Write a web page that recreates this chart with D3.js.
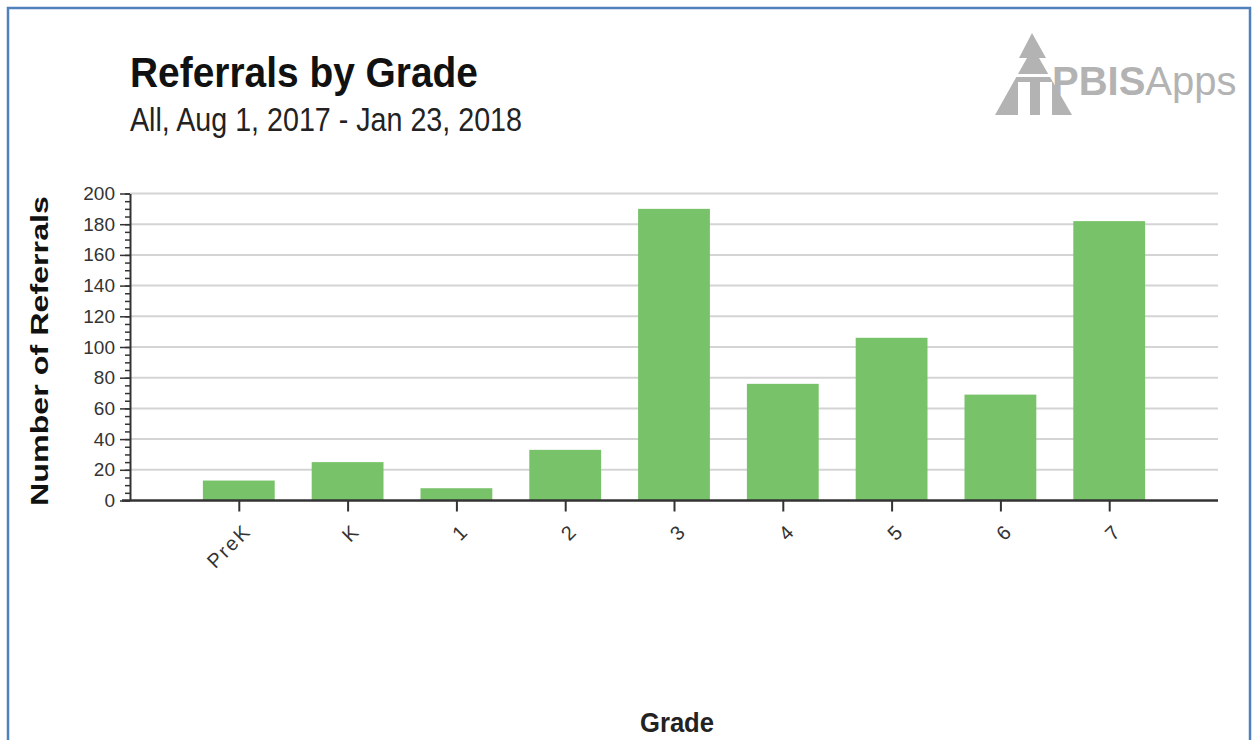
<!DOCTYPE html>
<html>
<head>
<meta charset="utf-8">
<script src="https://cdn.jsdelivr.net/npm/d3@7"></script>
<style>
  body { margin: 0; background: #fff; }
  svg text { font-family: "Liberation Sans", Arial, sans-serif; }
</style>
</head>
<body>
<div id="canvas"></div>
<script>
// chart data
const grades = ['PreK', 'K', '1', '2', '3', '4', '5', '6', '7'];
const referrals = [13, 25, 8, 33, 190, 76, 106, 69, 182];
const yTicks = [0, 20, 40, 60, 80, 100, 120, 140, 160, 180, 200];

const title = 'Referrals by Grade';
const subtitle = 'All, Aug 1, 2017 - Jan 23, 2018';

const width = 1255, height = 740;
const plotLeft = 130, plotRight = 1218, plotTop = 193.5, plotBottom = 500.5;

const svg = d3.select('#canvas')
    .append('svg')
    .attr('width', width)
    .attr('height', height);

// blue frame around the picture
svg.append('rect')
    .attr('x', 8).attr('y', 8)
    .attr('width', 1242).attr('height', 760)
    .attr('fill', 'none')
    .attr('stroke', '#4f81bd')
    .attr('stroke-width', 2.5);

svg.append('text')
    .attr('x', 130).attr('y', 87)
    .attr('font-size', 42).attr('font-weight', 'bold')
    .attr('fill', '#111')
    .attr('textLength', 348).attr('lengthAdjust', 'spacingAndGlyphs')
    .text(title);

svg.append('text')
    .attr('x', 130).attr('y', 131)
    .attr('font-size', 34)
    .attr('fill', '#222')
    .attr('textLength', 392).attr('lengthAdjust', 'spacingAndGlyphs')
    .text(subtitle);

// logo
const logo = svg.append('g').attr('fill', '#b3b3b3');
logo.append('path')
    .attr('d', 'M1032,33 L1046,58 L1039,58 L1072,115 L1052,115 L1052,82 L1040,82 L1040,115 L1030,115 L1030,82 L1018,82 L1018,115 L995,115 L1027,58 L1019,58 Z');
logo.append('rect').attr('x', 1000).attr('y', 74).attr('width', 60).attr('height', 3).attr('fill', '#fff');
const logoText = logo.append('text')
    .attr('x', 1052).attr('y', 95)
    .attr('font-size', 40);
logoText.append('tspan').attr('font-weight', 'bold').text('PBIS');
logoText.append('tspan').attr('font-weight', 'normal').text('Apps');

const x = d3.scalePoint()
    .domain(grades)
    .range([plotLeft, plotRight])
    .padding(1);

const y = d3.scaleLinear()
    .domain([0, 200])
    .range([plotBottom, plotTop]);

const barW = x.step() * 0.66;

// gridlines
svg.append('g')
    .selectAll('line')
    .data(yTicks.filter(d => d > 0))
    .enter()
    .append('line')
    .attr('x1', plotLeft).attr('x2', plotRight)
    .attr('y1', d => y(d)).attr('y2', d => y(d))
    .attr('stroke', '#d4d4d4')
    .attr('stroke-width', 2);

// bars
svg.append('g')
    .selectAll('rect')
    .data(grades)
    .enter()
    .append('rect')
    .attr('x', d => x(d) - barW / 2)
    .attr('width', barW)
    .attr('y', (d, i) => y(referrals[i]))
    .attr('height', (d, i) => y(0) - y(referrals[i]))
    .attr('fill', '#78c26a');

// minor ticks on y axis
const minor = svg.append('g')
    .attr('transform', `translate(${plotLeft},0)`)
    .call(d3.axisLeft(y).ticks(50).tickSize(5).tickFormat(''));
minor.select('.domain').remove();
minor.selectAll('line').attr('stroke', '#333').attr('stroke-width', 1.5);

// y axis
const yAxis = svg.append('g')
    .attr('transform', `translate(${plotLeft},0)`)
    .call(d3.axisLeft(y).tickValues(yTicks).tickSize(10).tickSizeOuter(0).tickPadding(5));
yAxis.select('.domain').attr('stroke', '#333').attr('stroke-width', 2);
yAxis.selectAll('.tick line').attr('stroke', '#333').attr('stroke-width', 1.5);
yAxis.selectAll('text')
    .attr('font-size', 19)
    .attr('fill', '#333');

// x axis
const xAxis = svg.append('g')
    .attr('transform', `translate(0,${plotBottom})`)
    .call(d3.axisBottom(x).tickSize(11).tickSizeOuter(0));
xAxis.select('.domain').attr('stroke', '#333').attr('stroke-width', 2.5)
    .attr('d', `M${plotLeft - 8},0H${plotRight}`);
xAxis.selectAll('.tick line').attr('stroke', '#333').attr('stroke-width', 2);
xAxis.selectAll('text')
    .attr('font-size', 20)
    .attr('letter-spacing', 2)
    .attr('fill', '#333')
    .attr('text-anchor', 'end')
    .attr('x', 0).attr('y', 0)
    .attr('dy', '0.35em')
    .attr('transform', 'translate(8,27) rotate(-45)');

// axis titles
svg.append('text')
    .attr('transform', `translate(48,${(plotTop + plotBottom) / 2 + 4}) rotate(-90)`)
    .attr('text-anchor', 'middle')
    .attr('font-size', 24).attr('font-weight', 'bold')
    .attr('fill', '#111')
    .attr('textLength', 310).attr('lengthAdjust', 'spacingAndGlyphs')
    .text('Number of Referrals');

svg.append('text')
    .attr('x', 677).attr('y', 732)
    .attr('text-anchor', 'middle')
    .attr('font-size', 27).attr('font-weight', 'bold')
    .attr('fill', '#222')
    .attr('textLength', 74).attr('lengthAdjust', 'spacingAndGlyphs')
    .text('Grade');
</script>
</body>
</html>
